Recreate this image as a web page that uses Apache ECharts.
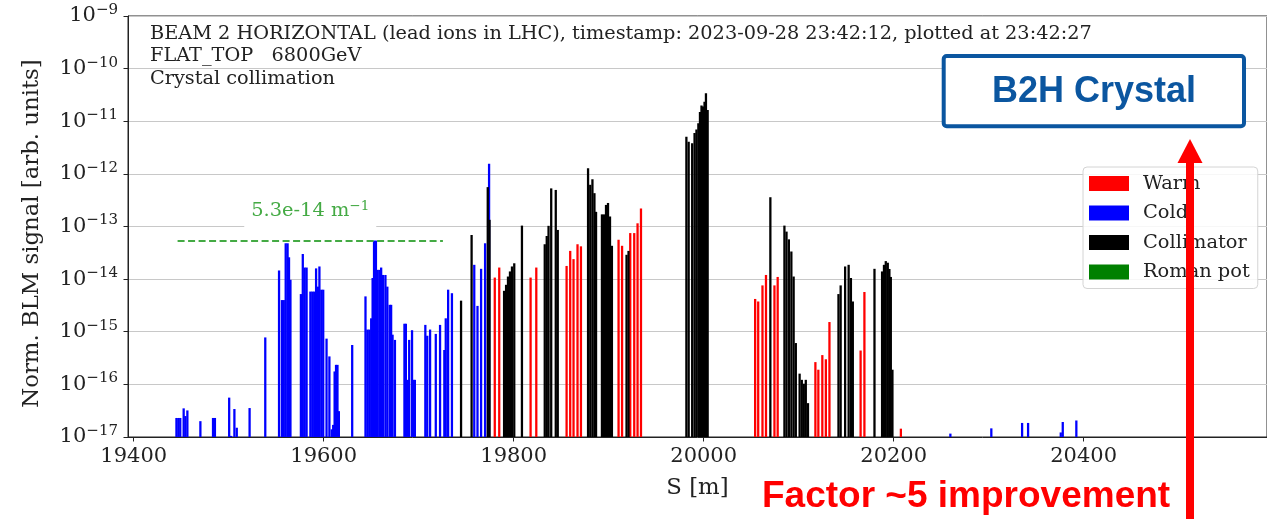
<!DOCTYPE html>
<html><head><meta charset="utf-8">
<script src="https://cdn.jsdelivr.net/npm/echarts@6/dist/echarts.min.js"></script>
<style>html,body{margin:0;padding:0;background:#fff}#c{width:1267px;height:519px}</style>
</head><body><div id="c"></div>
<script>
// ---- data (S position in m, normalised BLM signal) ----
const warmS = [19780.1,19784.8,19817.8,19823.8,19855.7,19859.5,19863,19867.2,19870.8,19910.4,19914.1,19922.7,19926.9,19930.4,19934,
  20054.2,20057.4,20061.9,20065.6,20074.5,20077.9,20117.6,20120.7,20124.9,20128.6,20132.4,20165.2,20169.2,20207.6];
const warmV = [1.07e-14,1.66e-14,1.07e-14,1.66e-14,1.78e-14,3.44e-14,2.4e-14,4.6e-14,4.2e-14,5.6e-14,4.3e-14,7.5e-14,7.5e-14,1.15e-13,2.2e-13,
  4.2e-15,3.76e-15,7.6e-15,1.2e-14,7.6e-15,1.1e-14,2.65e-16,1.9e-16,3.6e-16,3.0e-16,1.53e-15,4.4e-16,5.7e-15,1.44e-17];

const coldS = [19445,19447,19449,19452.6,19454.4,19456.5,19470.2,19483.5,19485.5,19500.5,19502.5,19506,19508.5,19522,19538.5,
  19553,19556,19558,19560,19562,19563.5,19565,19576,19578,19580,19582,19586,19588,19590,19592,19594,19595.5,19597.5,19599.5,
  19603,19606,19608.5,19610,19611.5,19613,19614.5,19616,19630,19644,19646,19648,19650,19651.5,19653,19655,19656.5,19658.5,
  19660.5,19662.5,19665,19667,19669.5,19671,19672.5,19675,19685,19686.5,19688.5,19690,19693,19694.5,19696,19707,19709,19712,
  19718,19722.5,19727,19728.5,19731,19735,19758.5,19761.9,19765.7,19769.9,19774.1,
  20259.7,20302.8,20335.2,20341.5,20375.9,20378,20392.3];
const coldV = [2.3e-17,2.3e-17,2.3e-17,3.5e-17,2.5e-17,3.2e-17,2.0e-17,2.3e-17,2.3e-17,5.6e-17,1.05e-17,3.4e-17,1.5e-17,3.55e-17,7.8e-16,
  1.46e-14,4.0e-15,4.0e-15,4.8e-14,4.8e-14,2.6e-14,9.7e-15,5.2e-15,3.0e-14,1.66e-14,1.66e-14,5.8e-15,5.8e-15,5.8e-15,1.6e-14,7.2e-15,1.74e-14,6.3e-15,6.3e-15,
  7.4e-16,3.4e-16,1.4e-17,1.7e-17,1.76e-16,2.35e-16,2.35e-16,3.1e-17,5.6e-16,4.7e-15,1.1e-15,1.1e-15,1.8e-15,1.05e-14,5.4e-14,5.4e-14,1.5e-14,1.5e-14,
  1.66e-14,1.2e-14,1.2e-14,7.2e-15,3.25e-15,3.25e-15,8.8e-16,7.0e-16,1.42e-15,1.42e-15,1.22e-16,7.0e-16,1.07e-15,1.22e-16,1.22e-16,1.35e-15,8.4e-16,1.1e-15,
  9.1e-16,1.35e-15,4.5e-16,1.8e-15,6.3e-15,5.4e-15,1.87e-14,3.1e-15,1.57e-14,4.8e-14,1.55e-12,
  1.16e-17,1.46e-17,1.85e-17,1.85e-17,1.22e-17,1.93e-17,2.06e-17];

const collS = [19744.6,19755.7,19772.7,19774.6,19789.9,19792,19794,19796.1,19798.2,19800.6,
  19808.7,19832.7,19834.8,19836.7,19839.5,19844.3,19846.4,
  19878.3,19880.6,19882.9,19885,19886.7,19892.9,19895.1,19897.2,19899.3,19901.4,19903.4,19918.8,19920.9,
  19981.8,19984.2,19987.9,19990.4,19992.4,19994.4,19996.1,19997.7,19999.3,20000.9,20002.4,20004.2,
  20070.2,20085,20087.2,20089.7,20092.3,20094.7,20097,20101,20103.3,20105.4,20107.5,20109.8,
  20141.9,20144.2,20148.9,20152.6,20155,20157,20179.8,
  20187.8,20189.8,20191.7,20193.8,20195.5,20197,20198.7];
const collV = [3.9e-15,6.9e-14,5.6e-13,1.34e-13,6.0e-15,7.8e-15,1.12e-14,1.4e-14,1.74e-14,2.0e-14,
  1.04e-13,4.6e-14,6.6e-14,1.03e-13,5.3e-13,4.95e-13,8.6e-14,
  1.28e-12,6.2e-13,7.9e-13,4.3e-13,1.9e-13,1.7e-13,1.7e-13,2.57e-13,2.8e-13,1.55e-13,4.3e-14,2.9e-14,3.44e-14,
  5.1e-12,4.1e-12,3.8e-12,6.0e-12,7.0e-12,9.2e-12,1.5e-11,2.0e-11,1.9e-11,2.35e-11,3.4e-11,1.64e-11,
  3.6e-13,1.04e-13,8.0e-14,5.7e-14,3.35e-14,1.12e-14,6.1e-16,1.6e-16,1.22e-16,1.03e-16,1.22e-16,4.4e-17,
  5.2e-15,7.6e-15,1.74e-14,1.87e-14,1.05e-14,3.76e-15,1.57e-14,
  1.4e-14,1.87e-14,2.2e-14,2.05e-14,1.56e-14,1.1e-14,1.9e-16];

const romanS = [];
const romanV = [];

const levelS = [19446.2, 19725.5];      // extent of the reference level line
const levelV = 5.3e-14;
const xTicks = [19400, 19600, 19800, 20000, 20200, 20400];
const seriesNames = ['Warm', 'Cold', 'Collimator', 'Roman pot'];

const infoLines = ['BEAM 2 HORIZONTAL (lead ions in LHC), timestamp: 2023-09-28 23:42:12, plotted at 23:42:27',
  'FLAT_TOP   6800GeV', 'Crystal collimation'];

// ---- chart ----
const Y_MIN = 1e-17, Y_MAX = 1e-9, BAR_W = 2.4;
const SERIF = 'DejaVu Serif';
const zip = (a, b) => a.map((s, i) => [s, b[i]]);

function barRender(color) {
  return function (params, api) {
    const s = api.value(0), v = api.value(1);
    const p0 = api.coord([s - BAR_W / 2, v]);
    const p1 = api.coord([s + BAR_W / 2, Y_MIN]);
    return { type: 'rect', shape: { x: p0[0], y: p0[1], width: p1[0] - p0[0], height: p1[1] - p0[1] },
      style: { fill: color } };
  };
}
function barSeries(name, color, S, V, extra) {
  return Object.assign({ type: 'custom', name, renderItem: barRender(color), itemStyle: { color },
    encode: { x: 0, y: 1 }, data: zip(S, V), clip: true, animation: false }, extra || {});
}

const chart = echarts.init(document.getElementById('c'), null, { renderer: 'canvas' });
chart.setOption({
  animation: false,
  backgroundColor: '#fff',
  grid: { left: 128, right: 0, top: 16, bottom: 82, show: true, borderColor: '#222', borderWidth: 1, backgroundColor: 'transparent' },
  xAxis: {
    type: 'value', min: 19394, max: 20593,
    name: 'S [m]', nameLocation: 'middle', nameGap: 40,
    nameTextStyle: { fontFamily: SERIF, fontSize: 22.8, color: '#222' },
    axisLine: { show: true, onZero: false, lineStyle: { color: '#222', width: 1 } },
    axisTick: { show: true, length: 4.5, customValues: xTicks, lineStyle: { color: '#222' } },
    axisLabel: { customValues: xTicks, formatter: v => String(v), fontFamily: SERIF, fontSize: 21, color: '#222', margin: 9 },
    splitLine: { show: false }
  },
  yAxis: {
    type: 'log', logBase: 10, min: Y_MIN, max: Y_MAX, splitNumber: 8,
    name: 'Norm. BLM signal [arb. units]', nameLocation: 'middle', nameGap: 84,
    nameTextStyle: { fontFamily: SERIF, fontSize: 22.8, color: '#222', padding: [0, 14, 0, 0] },
    axisLine: { show: true, lineStyle: { color: '#222', width: 1 } },
    axisTick: { show: true, length: 4.5, lineStyle: { color: '#222' } },
    minorTick: { show: false },
    axisLabel: {
      margin: 10,
      formatter: v => '{b|10}{s|\u2212' + (-Math.round(Math.log10(v))) + '}',
      rich: {
        b: { fontFamily: SERIF, fontSize: 21, color: '#222' },
        s: { fontFamily: SERIF, fontSize: 15, color: '#222', padding: [0, 0, 12, 0] }
      }
    },
    splitLine: { show: true, lineStyle: { color: '#c8c8c8', width: 1.2 } }
  },
  legend: {
    data: seriesNames, orient: 'vertical', left: 1083, top: 167,
    icon: 'rect', itemWidth: 40, itemHeight: 15, itemGap: 10.5,
    padding: [7, 8, 7, 6],
    backgroundColor: 'rgba(255,255,255,0.85)', borderColor: '#d4d4d4', borderWidth: 1, borderRadius: 4,
    textStyle: { fontFamily: SERIF, fontSize: 19.4, color: '#222', padding: [0, 0, 0, 9] }
  },
  series: [
    barSeries('Warm', '#ff0000', warmS, warmV),
    barSeries('Cold', '#0000ff', coldS, coldV, {
      markLine: {
        silent: true, symbol: 'none', animation: false,
        lineStyle: { color: '#44aa44', type: [7, 3.5], width: 2 },
        label: {
          show: true, position: 'middle', distance: 12,
          formatter: '{a|5.3e-14 m}{s|\u22121}',
          backgroundColor: '#fff', padding: [6, 7, 6, 7],
          rich: {
            a: { fontFamily: SERIF, fontSize: 19.4, color: '#44aa44' },
            s: { fontFamily: SERIF, fontSize: 13.5, color: '#44aa44', padding: [0, 0, 10, 0] }
          }
        },
        data: [[{ coord: [levelS[0], levelV] }, { coord: [levelS[1], levelV] }]]
      }
    }),
    barSeries('Collimator', '#000000', collS, collV),
    barSeries('Roman pot', '#008000', romanS, romanV)
  ],
  graphic: [
    { type: 'text', left: 150, top: 22.3, z: 10,
      style: { text: infoLines.join('\n'), fontFamily: SERIF, fontSize: 19.3, lineHeight: 22.7, fill: '#222' } },
    { type: 'rect', z: 20, shape: { x: 943.7, y: 56, width: 300.3, height: 70.3, r: 3 },
      style: { fill: '#fff', stroke: '#0b56a0', lineWidth: 4 } },
    { type: 'text', z: 21, x: 1094, y: 92,
      style: { text: 'B2H Crystal', fontFamily: 'Liberation Sans, Arial, sans-serif', fontWeight: 'bold', fontSize: 36,
        fill: '#0b56a0', textAlign: 'center', textVerticalAlign: 'middle' } },
    { type: 'line', z: 30, shape: { x1: 1190, y1: 530, x2: 1190, y2: 158 },
      style: { stroke: '#ff0000', lineWidth: 8 } },
    { type: 'polygon', z: 30, shape: { points: [[1190, 139], [1177.5, 163], [1202.5, 163]] },
      style: { fill: '#ff0000' } },
    { type: 'text', z: 30, x: 762, y: 497,
      style: { text: 'Factor ~5 improvement', fontFamily: 'Liberation Sans, Arial, sans-serif', fontWeight: 'bold', fontSize: 37,
        fill: '#ff0000', textAlign: 'left', textVerticalAlign: 'middle' } }
  ]
});
</script>
</body></html>
